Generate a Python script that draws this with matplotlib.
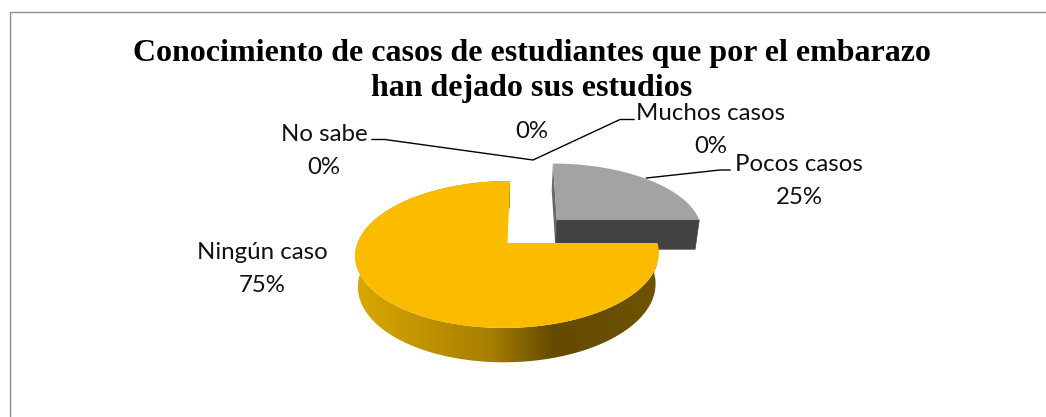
import numpy as np
import matplotlib
matplotlib.use('Agg')
import matplotlib.pyplot as plt
from matplotlib.patches import Polygon
from matplotlib.colors import LinearSegmentedColormap

# Chart data
categories = ['Muchos casos', 'Pocos casos', 'Ningún caso', 'No sabe', '']
shares = [0, 25, 75, 0, 0]
slice_colors = {'Pocos casos': '#A3A3A3', 'Ningún caso': '#FBBC00'}
title = 'Conocimiento de casos de estudiantes que por el embarazo\nhan dejado sus estudios'

# Pie projection, in pixels of the picture
CX, CY = 507.5, 243
RX, RY = 150, 71.7
SKEW = 3
PERSP = 0.156
DEPTH = 30.4
WALL_SCALE = 0.98
WALL_CX = 492
EXPLODE = 0.48


def project(u, v, bottom=False):
    w = 1 + PERSP * v
    x = CX + (RX * u + SKEW * v) / w
    y = CY - RY * v / w
    if bottom:
        x = WALL_CX + (x - WALL_CX) * WALL_SCALE
        y = CY + (y - CY) * WALL_SCALE + DEPTH / w
    return x, y


def arc(a0, a1, ox, oy, bottom=False):
    t = np.radians(np.linspace(a0, a1, 200))
    return np.column_stack(project(ox + np.cos(t), oy + np.sin(t), bottom))


def point(ox, oy, bottom=False):
    return np.array(project(ox, oy, bottom)).reshape(1, 2)


fig = plt.figure(figsize=(10.46, 4.17), dpi=100)
ax = fig.add_axes([0, 0, 1, 1])
ax.set_xlim(0, 1046)
ax.set_ylim(417, 0)
ax.axis('off')

# Chart frame
ax.plot([9.5, 9.5, 1046], [417, 11.5, 11.5], color='#8C8C8C', lw=1)

# Angles run clockwise from the top, as in the spreadsheet pie
angle = 90.0
slices = {}
for name, share in zip(categories, shares):
    sweep = share / sum(shares) * 360
    if sweep > 0:
        slices[name] = (angle - sweep, angle)
    angle -= sweep

# Small slice, pulled out along its middle angle
a0, a1 = slices['Pocos casos']
mid = np.radians((a0 + a1) / 2)
ox, oy = EXPLODE * np.cos(mid), EXPLODE * np.sin(mid)
top_rim = arc(a0, a1, ox, oy)
bot_rim = arc(a0, a1, ox, oy, bottom=True)
apex_t, apex_b = point(ox, oy), point(ox, oy, bottom=True)
ax.add_patch(Polygon(np.vstack([apex_t, top_rim[-1:], bot_rim[-1:], apex_b]), fc='#6A6A6A', ec='none'))
ax.add_patch(Polygon(np.vstack([apex_t, top_rim[:1], bot_rim[:1], apex_b]), fc='#434343', ec='#434343', lw=0.5))
ax.add_patch(Polygon(np.vstack([apex_t, top_rim]), fc=slice_colors['Pocos casos'], ec='none'))

# Large slice: wall with a horizontal gradient, then the top face
a0, a1 = slices['Ningún caso']
top_rim = arc(a0, a1, 0, 0)
bot_rim = arc(a0, a1, 0, 0, bottom=True)
wall = Polygon(np.vstack([top_rim, bot_rim[::-1]]), fc='none', ec='none')
ax.add_patch(wall)
shade = LinearSegmentedColormap.from_list('shade', [(0, '#DBA800'), (0.45, '#A67E00'), (0.66, '#624A00'), (1, '#6E5300')])
grad = ax.imshow(np.linspace(0, 1, 256).reshape(1, -1), cmap=shade, aspect='auto',
                 extent=(355, 657, 370, 180), zorder=1)
grad.set_clip_path(wall)
apex_t = point(0, 0)
ax.add_patch(Polygon(np.vstack([apex_t, top_rim]), fc=slice_colors['Ningún caso'], ec='none', zorder=2))
# thin dark sliver of the cut face next to the centre
ax.add_patch(Polygon(np.vstack([apex_t, top_rim[-1:], apex_t - [1.5, 0]]), fc='#A88000', ec='none', zorder=2.5))
ax.set_xlim(0, 1046)
ax.set_ylim(417, 0)

# Title and labels
ax.text(532, 71, title, family='Liberation Serif', fontweight='bold', fontsize=23,
        ha='center', va='center', linespacing=1.25, color='black', zorder=5)

label_style = dict(family='Lato', fontsize=17.3, ha='center', va='center', linespacing=1.65, color='#111111', zorder=5)
ax.text(324, 151, 'No sabe\n0%', **label_style)
ax.text(532, 131, '0%', **label_style)
ax.text(711, 130, 'Muchos casos\n0%', **label_style)
ax.text(799, 181, 'Pocos casos\n25%', **label_style)
ax.text(262, 269, 'Ningún caso\n75%', **label_style)

# Leader lines
ax.plot([372, 385, 533, 620, 634], [139.5, 139.5, 160, 119.5, 119.5], color='black', lw=1, zorder=4)
ax.plot([646.5, 720, 730], [178, 170, 170], color='black', lw=1, zorder=4)

fig.savefig('out.png', dpi=100)
